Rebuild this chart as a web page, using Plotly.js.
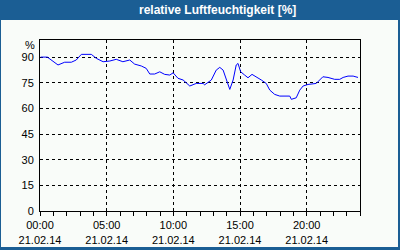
<!DOCTYPE html>
<html><head><meta charset="utf-8">
<script src="https://cdn.plot.ly/plotly-3.0.1.min.js"></script>
<style>html,body{margin:0;padding:0;background:#1b5e94;}#c{width:400px;height:250px;}</style>
</head><body><div id="c"></div>
<script>
const times = ["00:03","00:33","01:21","01:51","02:21","02:43","03:06","03:51","04:13","04:44","05:14","05:43","06:13","06:44","07:06","07:36","07:58","08:14","08:36","08:59","09:21","09:44","09:59","10:21","10:44","11:14","11:43","12:14","12:21","12:51","13:13","13:29","13:44","13:58","14:14","14:29","14:43","14:51","15:03","15:21","15:36","15:54","16:13","16:36","16:58","17:14","17:36","17:59","18:44","18:51","19:13","19:29","19:44","20:06","20:43","21:13","21:36","22:06","22:29","22:44","23:06","23:29","23:51"];
const humidity = [90,90,85.4,87,87,88.3,91.6,91.6,89.3,87.3,87.7,88.7,87.3,88.3,85.9,84.8,83.4,80.1,80.1,81.4,79.9,79.5,80.8,77.6,76.6,73.1,74.6,74.6,73.8,76.6,82.4,84,82.4,76.6,71.1,76.6,85.4,86.3,81.4,79.5,77.9,79.9,78.5,76.6,74.6,70.7,68.2,67.2,67.2,65.3,66.2,70.7,73.1,74.0,74.6,78.5,78.1,77.0,77.0,78.1,78.9,78.9,78.1];
const xTickHours = ["00:00","05:00","10:00","15:00","20:00"];
const xTickDate = "21.02.14";
const yTicks = [0,15,30,45,60,75,90];
const titleText = "relative Luftfeuchtigkeit [%]";
const day = "2014-02-21";

const x = times.map(t => day + " " + t);
const bg = "#f9fcf9";
const blue = "#1b5e94";
const font = {family: "Liberation Sans, Arial, sans-serif", size: 11, color: "#000"};

const px = v => (v - 40) / 320;
const py = v => (211 - v) / 171;

Plotly.newPlot("c", [{
  x: x, y: humidity, type: "scatter", mode: "lines",
  line: {color: "#0000ff", width: 1}, hoverinfo: "skip"
}], {
  width: 400, height: 250,
  margin: {l: 40, r: 40, t: 40, b: 39, pad: 0},
  paper_bgcolor: blue, plot_bgcolor: bg,
  font: font, showlegend: false,
  xaxis: {
    type: "date", range: [day + " 00:00", "2014-02-22 00:00"],
    tickvals: xTickHours.map(h => day + " " + h),
    ticktext: xTickHours.map(h => h + "<br>" + xTickDate),
    showgrid: true, gridcolor: "#000", griddash: "3px,3px", gridwidth: 1,
    showline: true, linecolor: "#000", linewidth: 1, mirror: true,
    ticks: "outside", ticklen: 4, tickcolor: "#000",
    minor: {dtick: 3600000, ticks: "outside", ticklen: 4, tickcolor: "#000", showgrid: false},
    zeroline: false, fixedrange: true, tickfont: font
  },
  yaxis: {
    range: [0, 100], tickvals: yTicks, ticktext: yTicks.map(String),
    showgrid: true, gridcolor: "#000", griddash: "3px,3px", gridwidth: 1,
    showline: true, linecolor: "#000", linewidth: 1, mirror: true,
    ticks: "", ticklabelstandoff: 3,
    zeroline: false, fixedrange: true, tickfont: font
  },
  shapes: [
    {type: "rect", xref: "paper", yref: "paper", x0: px(1), x1: px(398), y0: py(247), y1: py(20),
     fillcolor: bg, line: {width: 0}, layer: "below"}
  ],
  annotations: [
    {text: "<b>" + titleText + "</b>", xref: "paper", yref: "paper", x: px(217), y: py(10),
     xanchor: "center", yanchor: "middle", showarrow: false,
     font: {family: "Liberation Sans, Arial, sans-serif", size: 12, color: "#fff"}},
    {text: "%", xref: "paper", yref: "paper", x: px(36.5), y: py(45),
     xanchor: "right", yanchor: "middle", showarrow: false, font: font}
  ]
}, {staticPlot: true, displayModeBar: false});
</script></body></html>
